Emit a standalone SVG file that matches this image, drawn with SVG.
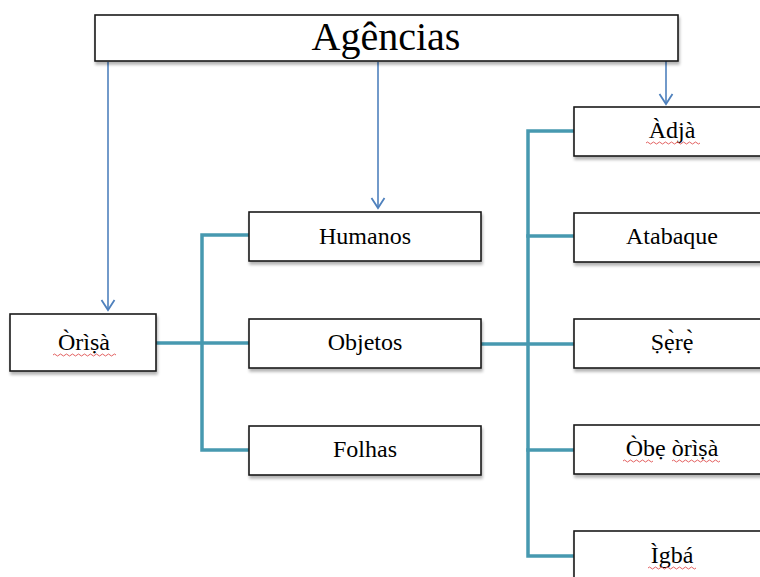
<svg xmlns="http://www.w3.org/2000/svg" width="760" height="577" viewBox="0 0 760 577">
<defs>
<marker id="arr" markerWidth="16" markerHeight="16" refX="8" refY="13" orient="0" markerUnits="userSpaceOnUse" viewBox="0 0 16 16">
<path d="M1.5 3 L8 13 L14.5 3" fill="none" stroke="#4F81BD" stroke-width="1.8"/>
</marker>
<filter id="sh" x="-10%" y="-10%" width="130%" height="140%">
<feGaussianBlur in="SourceAlpha" stdDeviation="1.5"/>
<feOffset dx="1" dy="2.5" result="b"/>
<feComponentTransfer><feFuncA type="linear" slope="0.3"/></feComponentTransfer>
<feMerge><feMergeNode/><feMergeNode in="SourceGraphic"/></feMerge>
</filter>
</defs>
<style>
.box{fill:#fff;stroke:#1a1a1a;stroke-width:1.6;filter:url(#sh)}
text{font-family:'Liberation Serif','DejaVu Serif',serif;font-size:24px;fill:#000;text-anchor:middle}
.big{font-size:40px}
.tree{fill:none;stroke:#4799B0;stroke-width:3.5;stroke-linecap:square}
.arrow{fill:none;stroke:#4F81BD;stroke-width:1.6;marker-end:url(#arr)}
.sq{fill:none;stroke:#e05050;stroke-width:0.9}
</style>
<rect width="760" height="577" fill="#fff"/>
<g id="connectors">
<path class="arrow" d="M108 62 V310"/>
<path class="arrow" d="M378 62 V208"/>
<path class="arrow" d="M666 60 V104"/>
<path class="tree" d="M156 343 H249"/>
<path class="tree" d="M249 235 H202 V450 H249"/>
<path class="tree" d="M481 344 H574"/>
<path class="tree" d="M574 131 H528 V556 H574"/>
<path class="tree" d="M528 236 H574 M528 450 H574"/>
</g>
<g id="agencias"><rect class="box" x="95" y="15" width="583" height="46"/><text class="big" x="386" y="50">Agências</text></g>
<g id="orisa"><rect class="box" x="10" y="314" width="146" height="57"/><text x="84" y="350">Òrìṣà</text>
<path class="sq" d="M53 355 q1.5 -2 3 0 t3 0 t3 0 t3 0 t3 0 t3 0 t3 0 t3 0 t3 0 t3 0 t3 0 t3 0 t3 0 t3 0 t3 0 t3 0 t3 0 t3 0 t3 0 t3 0 t3 0"/></g>
<g id="humanos"><rect class="box" x="249" y="212" width="232" height="49"/><text x="365" y="244">Humanos</text></g>
<g id="objetos"><rect class="box" x="249" y="319" width="232" height="49"/><text x="365" y="350">Objetos</text></g>
<g id="folhas"><rect class="box" x="249" y="426" width="232" height="49"/><text x="365" y="457">Folhas</text></g>
<g id="adja"><rect class="box" x="574" y="107" width="196" height="49"/><text x="672" y="138">Àdjà</text>
<path class="sq" d="M646 143 q1.5 -2 3 0 t3 0 t3 0 t3 0 t3 0 t3 0 t3 0 t3 0 t3 0 t3 0 t3 0 t3 0 t3 0 t3 0 t3 0 t3 0 t3 0 t3 0"/></g>
<g id="atabaque"><rect class="box" x="574" y="213" width="196" height="49"/><text x="672" y="244">Atabaque</text></g>
<g id="sere"><rect class="box" x="574" y="319" width="196" height="49"/><text x="672" y="350">Ṣẹ̀rẹ̀</text></g>
<g id="obe"><rect class="box" x="574" y="425" width="196" height="49"/><text x="672" y="456">Òbẹ òrìṣà</text>
<path class="sq" d="M623 461 q1.5 -2 3 0 t3 0 t3 0 t3 0 t3 0 t3 0 t3 0 t3 0 t3 0 t3 0"/>
<path class="sq" d="M672 461 q1.5 -2 3 0 t3 0 t3 0 t3 0 t3 0 t3 0 t3 0 t3 0 t3 0 t3 0 t3 0 t3 0 t3 0 t3 0 t3 0 t3 0"/></g>
<g id="igba"><rect class="box" x="574" y="531" width="196" height="60"/><text x="672" y="563">Ìgbá</text>
<path class="sq" d="M648 568 q1.5 -2 3 0 t3 0 t3 0 t3 0 t3 0 t3 0 t3 0 t3 0 t3 0 t3 0 t3 0 t3 0 t3 0 t3 0 t3 0 t3 0"/></g>
</svg>
